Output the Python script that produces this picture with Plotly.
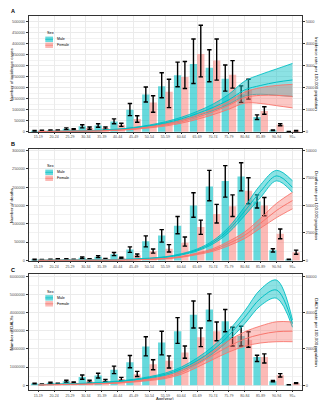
import plotly.graph_objects as go

ages = ["15-19", "20-24", "25-29", "30-34", "35-39", "40-44", "45-49", "50-54", "55-59",
        "60-64", "65-69", "70-74", "75-79", "80-84", "85-89", "90-94", "95+"]

# ---------------- Panel A: incidence ----------------
inc_m = [4000, 6000, 13000, 24000, 28000, 46000, 99000, 169000, 206000, 256000, 308000, 290000, 241000, 170000, 66000, 6000, 1000]
inc_m_lo = [2500, 4500, 9000, 17000, 20000, 36000, 73000, 135000, 154000, 204000, 219000, 227000, 184000, 133000, 55000, 4500, 700]
inc_m_hi = [5500, 7500, 17000, 31000, 36000, 58000, 128000, 203000, 268000, 316000, 421000, 372000, 303000, 208000, 76000, 7500, 1300]
inc_f = [5000, 6000, 10000, 16000, 16000, 31000, 57000, 133000, 181000, 248000, 353000, 323000, 259000, 190000, 94000, 31000, 4000]
inc_f_lo = [3500, 4500, 7000, 11000, 11000, 24000, 43000, 88000, 109000, 196000, 249000, 234000, 198000, 148000, 79000, 27000, 3000]
inc_f_hi = [6500, 7500, 13000, 21000, 21000, 38000, 72000, 163000, 238000, 319000, 484000, 421000, 323000, 238000, 113000, 36000, 5000]
inc_rate_m = [5, 10, 20, 35, 60, 100, 170, 270, 400, 580, 820, 1100, 1450, 1900, 2100, 2250, 2350]
inc_rate_m_lo = [3, 7, 15, 28, 50, 85, 150, 240, 350, 510, 720, 960, 1250, 1620, 1700, 1650, 1600]
inc_rate_m_hi = [7, 13, 25, 42, 70, 115, 190, 300, 450, 650, 920, 1250, 1700, 2300, 2600, 2850, 3100]
inc_rate_f = [5, 10, 15, 25, 40, 70, 120, 200, 300, 450, 650, 900, 1200, 1550, 1650, 1650, 1600]
inc_rate_f_lo = [3, 7, 11, 19, 32, 58, 100, 170, 255, 385, 560, 770, 1020, 1300, 1280, 1180, 1080]
inc_rate_f_hi = [7, 13, 19, 31, 48, 82, 140, 230, 345, 515, 740, 1030, 1380, 1800, 2000, 2100, 2150]

# ---------------- Panel B: deaths ----------------
dth_m = [2500, 2700, 3600, 7500, 10000, 17000, 30000, 52000, 68000, 95000, 150000, 202000, 217000, 229000, 161000, 28000, 2700]
dth_m_lo = [1800, 2000, 2700, 5500, 7500, 13000, 22000, 37000, 50000, 73000, 118000, 163000, 173000, 190000, 143000, 23000, 2000]
dth_m_hi = [3200, 3400, 4500, 9500, 12500, 21500, 37000, 67000, 84000, 120000, 185000, 246000, 259000, 267000, 179000, 32000, 3400]
dth_f = [1800, 3600, 2700, 3600, 4500, 7200, 14000, 25000, 32000, 48000, 91000, 127000, 148000, 190000, 150000, 73000, 22500]
dth_f_lo = [1300, 2700, 2000, 2700, 3400, 5500, 10500, 20000, 23000, 39000, 71000, 102000, 120000, 155000, 122000, 59000, 17000]
dth_f_hi = [2300, 4500, 3400, 4500, 5600, 9000, 17500, 31000, 43000, 64000, 110000, 153000, 179000, 226000, 172000, 86000, 28000]
dth_rate_m = [5, 10, 15, 25, 40, 70, 110, 180, 300, 550, 950, 1650, 2800, 4500, 6300, 7700, 6650]
dth_rate_m_lo = [4, 8, 12, 20, 33, 60, 95, 155, 265, 490, 860, 1500, 2550, 4100, 5750, 7250, 6200]
dth_rate_m_hi = [6, 12, 18, 30, 47, 80, 125, 205, 335, 610, 1040, 1800, 3050, 4900, 6900, 8200, 7250]
dth_rate_f = [3, 5, 8, 12, 20, 35, 60, 100, 170, 320, 600, 950, 1550, 2300, 3400, 4550, 5450]
dth_rate_f_lo = [2, 4, 6, 9, 16, 28, 50, 85, 145, 280, 530, 830, 1350, 2000, 2950, 3900, 4700]
dth_rate_f_hi = [4, 6, 10, 15, 24, 42, 70, 115, 195, 360, 670, 1070, 1750, 2600, 3850, 5200, 6200]

# ---------------- Panel C: DALYs ----------------
daly_m = [90000, 130000, 220000, 450000, 530000, 850000, 1270000, 2130000, 2360000, 2980000, 3890000, 4180000, 3530000, 2710000, 1550000, 220000, 20000]
daly_m_lo = [70000, 100000, 170000, 330000, 400000, 640000, 960000, 1620000, 1670000, 2310000, 3160000, 3560000, 2950000, 2160000, 1310000, 180000, 15000]
daly_m_hi = [110000, 160000, 270000, 560000, 660000, 1050000, 1640000, 2670000, 2980000, 3730000, 4650000, 5040000, 4180000, 3250000, 1650000, 260000, 25000]
daly_f = [55000, 90000, 145000, 220000, 250000, 345000, 600000, 1160000, 1350000, 1800000, 2640000, 2980000, 2670000, 2490000, 1550000, 545000, 110000]
daly_f_lo = [40000, 70000, 110000, 170000, 190000, 260000, 480000, 850000, 950000, 1490000, 2130000, 2450000, 2160000, 2090000, 1220000, 450000, 90000]
daly_f_hi = [70000, 110000, 180000, 270000, 310000, 430000, 760000, 1400000, 1620000, 2160000, 3160000, 3490000, 3200000, 2950000, 1730000, 640000, 130000]
daly_rate_m = [300, 450, 650, 1000, 1400, 2000, 2900, 4200, 6000, 9000, 13500, 19500, 27500, 37500, 48000, 52500, 34000]
daly_rate_m_lo = [250, 380, 560, 870, 1220, 1750, 2550, 3700, 5300, 8000, 12000, 17500, 24800, 34000, 44000, 48000, 32000]
daly_rate_m_hi = [350, 520, 740, 1130, 1580, 2250, 3250, 4700, 6700, 10000, 15000, 21500, 30200, 41000, 53000, 58000, 36000]
daly_rate_f = [200, 300, 450, 650, 900, 1300, 2000, 3000, 4300, 7000, 11500, 16500, 21500, 25500, 28000, 29500, 29800]
daly_rate_f_lo = [160, 240, 370, 540, 750, 1100, 1700, 2550, 3700, 6000, 9900, 14200, 18300, 21500, 23300, 24000, 24000]
daly_rate_f_hi = [240, 360, 530, 760, 1050, 1500, 2300, 3450, 4900, 8000, 13100, 18800, 24700, 29500, 32700, 35000, 34900]

panel_letters = ["A", "B", "C"]
left_titles = ["Number of incidence cases", "Number of deaths", "Number of DALYs"]
right_titles = ["Incidence rate per 100,000 population", "Deaths rate per 100,000 population",
                "DALYs rate per 100,000 population"]

W, H = 332, 400
TEAL = "#00BFC4"
PINK = "#F8766D"
TEAL_BAR = "rgba(0,191,196,0.6)"
PINK_BAR = "rgba(248,118,109,0.5)"
TEAL_FILL = "rgba(0,191,196,0.45)"
PINK_FILL = "rgba(248,118,109,0.40)"
FONT = "Liberation Sans"

panels = [
    dict(m=inc_m, mlo=inc_m_lo, mhi=inc_m_hi, f=inc_f, flo=inc_f_lo, fhi=inc_f_hi,
         rm=inc_rate_m, rmlo=inc_rate_m_lo, rmhi=inc_rate_m_hi,
         rf=inc_rate_f, rflo=inc_rate_f_lo, rfhi=inc_rate_f_hi,
         top=7, bot=124, lrange=[-2000, 526000], ldt=50000, lmax=500000, scale=100, rdt=1000, rmax=5000),
    dict(m=dth_m, mlo=dth_m_lo, mhi=dth_m_hi, f=dth_f, flo=dth_f_lo, fhi=dth_f_hi,
         rm=dth_rate_m, rmlo=dth_rate_m_lo, rmhi=dth_rate_m_hi,
         rf=dth_rate_f, rflo=dth_rate_f_lo, rfhi=dth_rate_f_hi,
         top=141, bot=254, lrange=[-1900, 304600], ldt=50000, lmax=300000, scale=30, rdt=2500, rmax=10000),
    dict(m=daly_m, mlo=daly_m_lo, mhi=daly_m_hi, f=daly_f, flo=daly_f_lo, fhi=daly_f_hi,
         rm=daly_rate_m, rmlo=daly_rate_m_lo, rmhi=daly_rate_m_hi,
         rf=daly_rate_f, rflo=daly_rate_f_lo, rfhi=daly_rate_f_hi,
         top=267.5, bot=384, lrange=[-273000, 6110000], ldt=1000000, lmax=6000000, scale=100, rdt=20000, rmax=60000),
]

X0, X1 = 20.7, 294.0

def px(x):
    return x / W

def py(y):
    return 1 - y / H

fig = go.Figure()
layout = dict(width=W, height=H, margin=dict(l=0, r=0, t=0, b=0),
              paper_bgcolor="white", plot_bgcolor="white", showlegend=False,
              barmode="group", bargap=0.08, bargroupgap=0.0,
              font=dict(family=FONT, size=4, color="#4D4D4D"))
annotations = []
shapes = []

for k, p in enumerate(panels):
    xa = "x" if k == 0 else f"x{k + 1}"
    yl = "y" if k == 0 else f"y{2 * k + 1}"
    yr = f"y{2 * k + 2}"
    xkey = "xaxis" if k == 0 else f"xaxis{k + 1}"
    ylkey = "yaxis" if k == 0 else f"yaxis{2 * k + 1}"
    yrkey = f"yaxis{2 * k + 2}"

    def err(v, lo, hi):
        return dict(type="data", symmetric=False,
                    array=[h - a for a, h in zip(v, hi)],
                    arrayminus=[a - l for a, l in zip(v, lo)],
                    color="black", thickness=1.4, width=2.2)

    fig.add_trace(go.Bar(x=ages, y=p["m"], name="Male", marker=dict(color=TEAL_BAR, line=dict(width=0)),
                         error_y=err(p["m"], p["mlo"], p["mhi"]), xaxis=xa, yaxis=yl))
    fig.add_trace(go.Bar(x=ages, y=p["f"], name="Female", marker=dict(color=PINK_BAR, line=dict(width=0)),
                         error_y=err(p["f"], p["flo"], p["fhi"]), xaxis=xa, yaxis=yl))

    for lo, hi, col, fill in [(p["rmlo"], p["rmhi"], TEAL, TEAL_FILL),
                              (p["rflo"], p["rfhi"], PINK, PINK_FILL)]:
        fig.add_trace(go.Scatter(x=ages, y=lo, mode="lines", line=dict(color=col, width=0.9, shape="spline"),
                                 xaxis=xa, yaxis=yr, hoverinfo="skip"))
        fig.add_trace(go.Scatter(x=ages, y=hi, mode="lines", line=dict(color=col, width=0.9, shape="spline"),
                                 fill="tonexty", fillcolor=fill, xaxis=xa, yaxis=yr, hoverinfo="skip"))
    for mid, col in [(p["rm"], TEAL), (p["rf"], PINK)]:
        fig.add_trace(go.Scatter(x=ages, y=mid, mode="lines", line=dict(color=col, width=1.0, shape="spline"),
                                 xaxis=xa, yaxis=yr, hoverinfo="skip"))

    ydom = [py(p["bot"]), py(p["top"])]
    layout[xkey] = dict(domain=[px(X0), px(X1)], anchor=yl, type="category",
                        categoryorder="array", categoryarray=ages, range=[-0.6, 16.6],
                        showgrid=True, gridcolor="#EBEBEB", gridwidth=0.6,
                        showline=True, linecolor="#333333", linewidth=0.8, mirror=True,
                        ticks="outside", ticklen=1.2, tickwidth=0.6, tickcolor="#333333",
                        tickfont=dict(size=3.6, color="#4D4D4D", family=FONT), fixedrange=True)
    lt = list(range(0, p["lmax"] + 1, p["ldt"]))
    layout[ylkey] = dict(domain=ydom, anchor=xa, range=p["lrange"],
                         tickmode="array", tickvals=lt, ticktext=[str(v) for v in lt],
                         showgrid=True, gridcolor="#EBEBEB", gridwidth=0.6, zeroline=False,
                         minor=dict(dtick=p["ldt"] / 2, tick0=0, showgrid=True, gridcolor="#F2F2F2", gridwidth=0.4),
                         showline=True, linecolor="#333333", linewidth=0.8, mirror=True,
                         ticks="outside", ticklen=2, tickwidth=0.6, tickcolor="#333333",
                         tickfont=dict(size=3.9, color="#4D4D4D", family=FONT), fixedrange=True)
    rt = list(range(0, p["rmax"] + 1, p["rdt"]))
    layout[yrkey] = dict(overlaying=yl, side="right", anchor=xa,
                         range=[p["lrange"][0] / p["scale"], p["lrange"][1] / p["scale"]],
                         tickmode="array", tickvals=rt, ticktext=[str(v) for v in rt],
                         showgrid=False, zeroline=False, showline=False,
                         ticks="outside", ticklen=2, tickwidth=0.6, tickcolor="#333333",
                         tickfont=dict(size=3.9, color="#4D4D4D", family=FONT), fixedrange=True)

    top, bot = p["top"], p["bot"]
    mid_y = (top + bot) / 2
    annotations.append(dict(text="<b>" + panel_letters[k] + "</b>", x=px(0.8), y=py(top - 4.5),
                            xref="paper", yref="paper", xanchor="left", yanchor="middle", showarrow=False,
                            font=dict(size=5.5, color="black", family=FONT)))
    annotations.append(dict(text=left_titles[k], x=px(3.2), y=py(mid_y), textangle=-90,
                            xref="paper", yref="paper", xanchor="center", yanchor="middle", showarrow=False,
                            font=dict(size=4.4, color="black", family=FONT)))
    annotations.append(dict(text=right_titles[k], x=px(309), y=py(mid_y), textangle=90,
                            xref="paper", yref="paper", xanchor="center", yanchor="middle", showarrow=False,
                            font=dict(size=4.4, color="black", family=FONT)))
    # legend (inside panel, top-left)
    ly = top + 17.3
    annotations.append(dict(text="Sex", x=px(37), y=py(ly), xref="paper", yref="paper",
                            xanchor="left", yanchor="middle", showarrow=False,
                            font=dict(size=3.8, color="black", family=FONT)))
    for j, (lab, fc, lc) in enumerate([("Male", TEAL_BAR, TEAL), ("Female", PINK_BAR, PINK)]):
        y0 = ly + 3.5 + j * 6
        shapes.append(dict(type="rect", xref="paper", yref="paper", x0=px(37.3), x1=px(45), y0=py(y0), y1=py(y0 + 5.5),
                           fillcolor=fc, line=dict(width=0)))
        shapes.append(dict(type="line", xref="paper", yref="paper", x0=px(37.3), x1=px(45),
                           y0=py(y0 + 2.75), y1=py(y0 + 2.75), line=dict(color=lc, width=0.7)))
        annotations.append(dict(text=lab, x=px(47), y=py(y0 + 2.75), xref="paper", yref="paper",
                                xanchor="left", yanchor="middle", showarrow=False,
                                font=dict(size=3.6, color="black", family=FONT)))

annotations.append(dict(text="Age(year)", x=px((X0 + X1) / 2), y=py(392.3), xref="paper", yref="paper",
                        xanchor="center", yanchor="middle", showarrow=False, borderpad=0,
                        font=dict(size=4.0, color="black", family=FONT)))

layout["annotations"] = annotations
layout["shapes"] = shapes
fig.update_layout(**layout)
fig.write_html("out.html")
